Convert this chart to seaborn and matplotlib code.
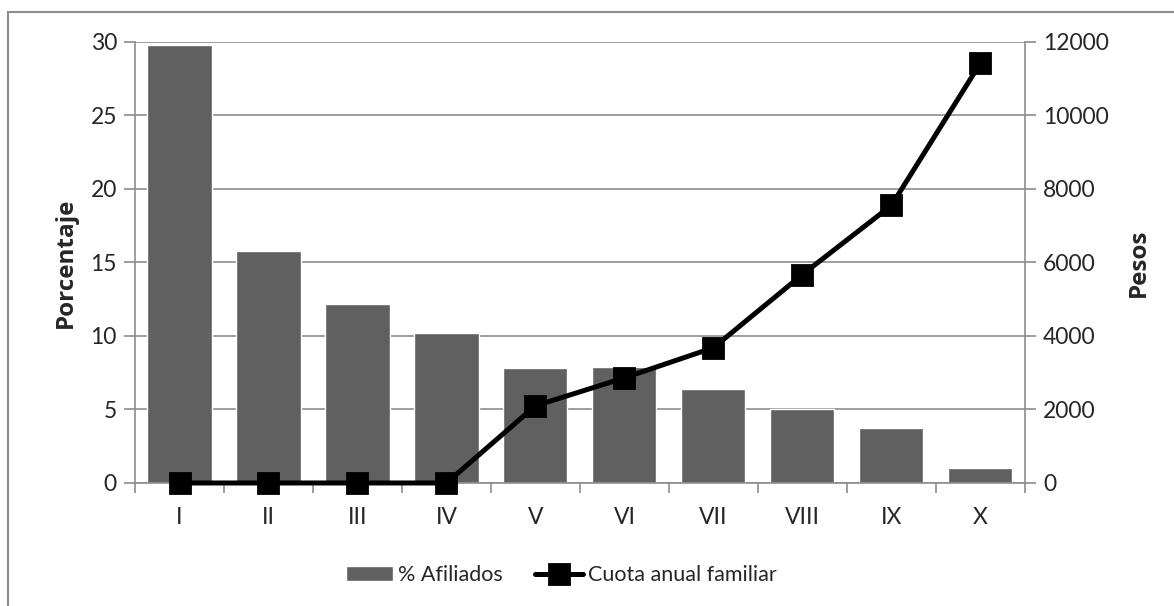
import numpy as np
import pandas as pd
import seaborn as sns
import matplotlib
matplotlib.use("Agg")
from matplotlib import pyplot as plt
from matplotlib.patches import Rectangle

deciles = ["I", "II", "III", "IV", "V", "VI", "VII", "VIII", "IX", "X"]
afiliados = [29.8, 15.8, 12.2, 10.2, 7.8, 7.9, 6.4, 5.0, 3.75, 1.0]
cuota = [0, 0, 0, 0, 2100, 2860, 3680, 5670, 7550, 11420]

df = pd.DataFrame({"decil": deciles, "afiliados": afiliados, "cuota": cuota})

sns.set_style("white")
plt.rcParams["font.family"] = ["Lato", "DejaVu Sans"]
grid_c = "#8c8c8c"
lab_font = dict(fontsize=17.5, fontweight="bold", family=["Open Sans", "DejaVu Sans"])

fig = plt.figure(figsize=(11.74, 6.06), dpi=100)
ax = fig.add_axes([0.115, 0.203, 0.758, 0.728])

sns.barplot(data=df, x="decil", y="afiliados", color="#606060", saturation=1,
            width=0.72, ax=ax, zorder=2)
ax.set_ylim(0, 30)
ax.set_xlim(-0.5, 9.5)
ax.set_yticks(np.arange(0, 31, 5))
ax.yaxis.grid(True, color=grid_c, linewidth=1.2, zorder=0)
ax.set_axisbelow(True)
ax.set_xlabel("")
ax.set_ylabel("Porcentaje", labelpad=9, **lab_font)

ax2 = ax.twinx()
sns.pointplot(data=df, x="decil", y="cuota", color="black", markers="s",
              linestyles="-", ax=ax2)
for ln in ax2.lines:
    ln.set_linewidth(3.6)
    ln.set_markersize(14)
    ln.set_clip_on(False)
ax2.set_ylim(0, 12000)
ax2.set_xlim(-0.5, 9.5)
ax2.set_yticks(np.arange(0, 12001, 2000))
ax2.set_ylabel("Pesos", labelpad=13, **lab_font)
ax2.set_xlabel("")

for a in (ax, ax2):
    for s in a.spines.values():
        s.set_visible(False)
ax.spines["left"].set_visible(True)
ax.spines["bottom"].set_visible(True)
ax2.spines["right"].set_visible(True)
for s in (ax.spines["left"], ax.spines["bottom"], ax2.spines["right"]):
    s.set_color(grid_c)
    s.set_linewidth(1.2)

ax.tick_params(axis="y", which="major", length=8, width=1.2, color=grid_c,
               labelsize=16.5, pad=5, left=True)
ax2.tick_params(axis="y", which="major", length=8, width=1.2, color=grid_c,
                labelsize=16.5, pad=5, right=True)
ax.set_xticks(np.arange(-0.5, 10, 1), minor=True)
ax.tick_params(axis="x", which="minor", length=7, width=1.2, color=grid_c, bottom=True)
ax.tick_params(axis="x", which="major", length=0, labelsize=16.5, pad=17)

handles = [ax.containers[0], ax2.lines[0]]
labels = ["% Afiliados", "Cuota anual familiar"]
fig.legend(handles, labels, loc="center", bbox_to_anchor=(0.478, 0.051),
           ncol=2, frameon=False, fontsize=15.5, handlelength=2.2,
           handletextpad=0.25, columnspacing=1.5)

fig.patches.append(Rectangle((8 / 1174, -0.1), 1.2, 1.1 - 12 / 606,
                             transform=fig.transFigure, fill=False,
                             edgecolor="#8c8c8c", linewidth=1.5))

fig.savefig("out.png", dpi=100)
